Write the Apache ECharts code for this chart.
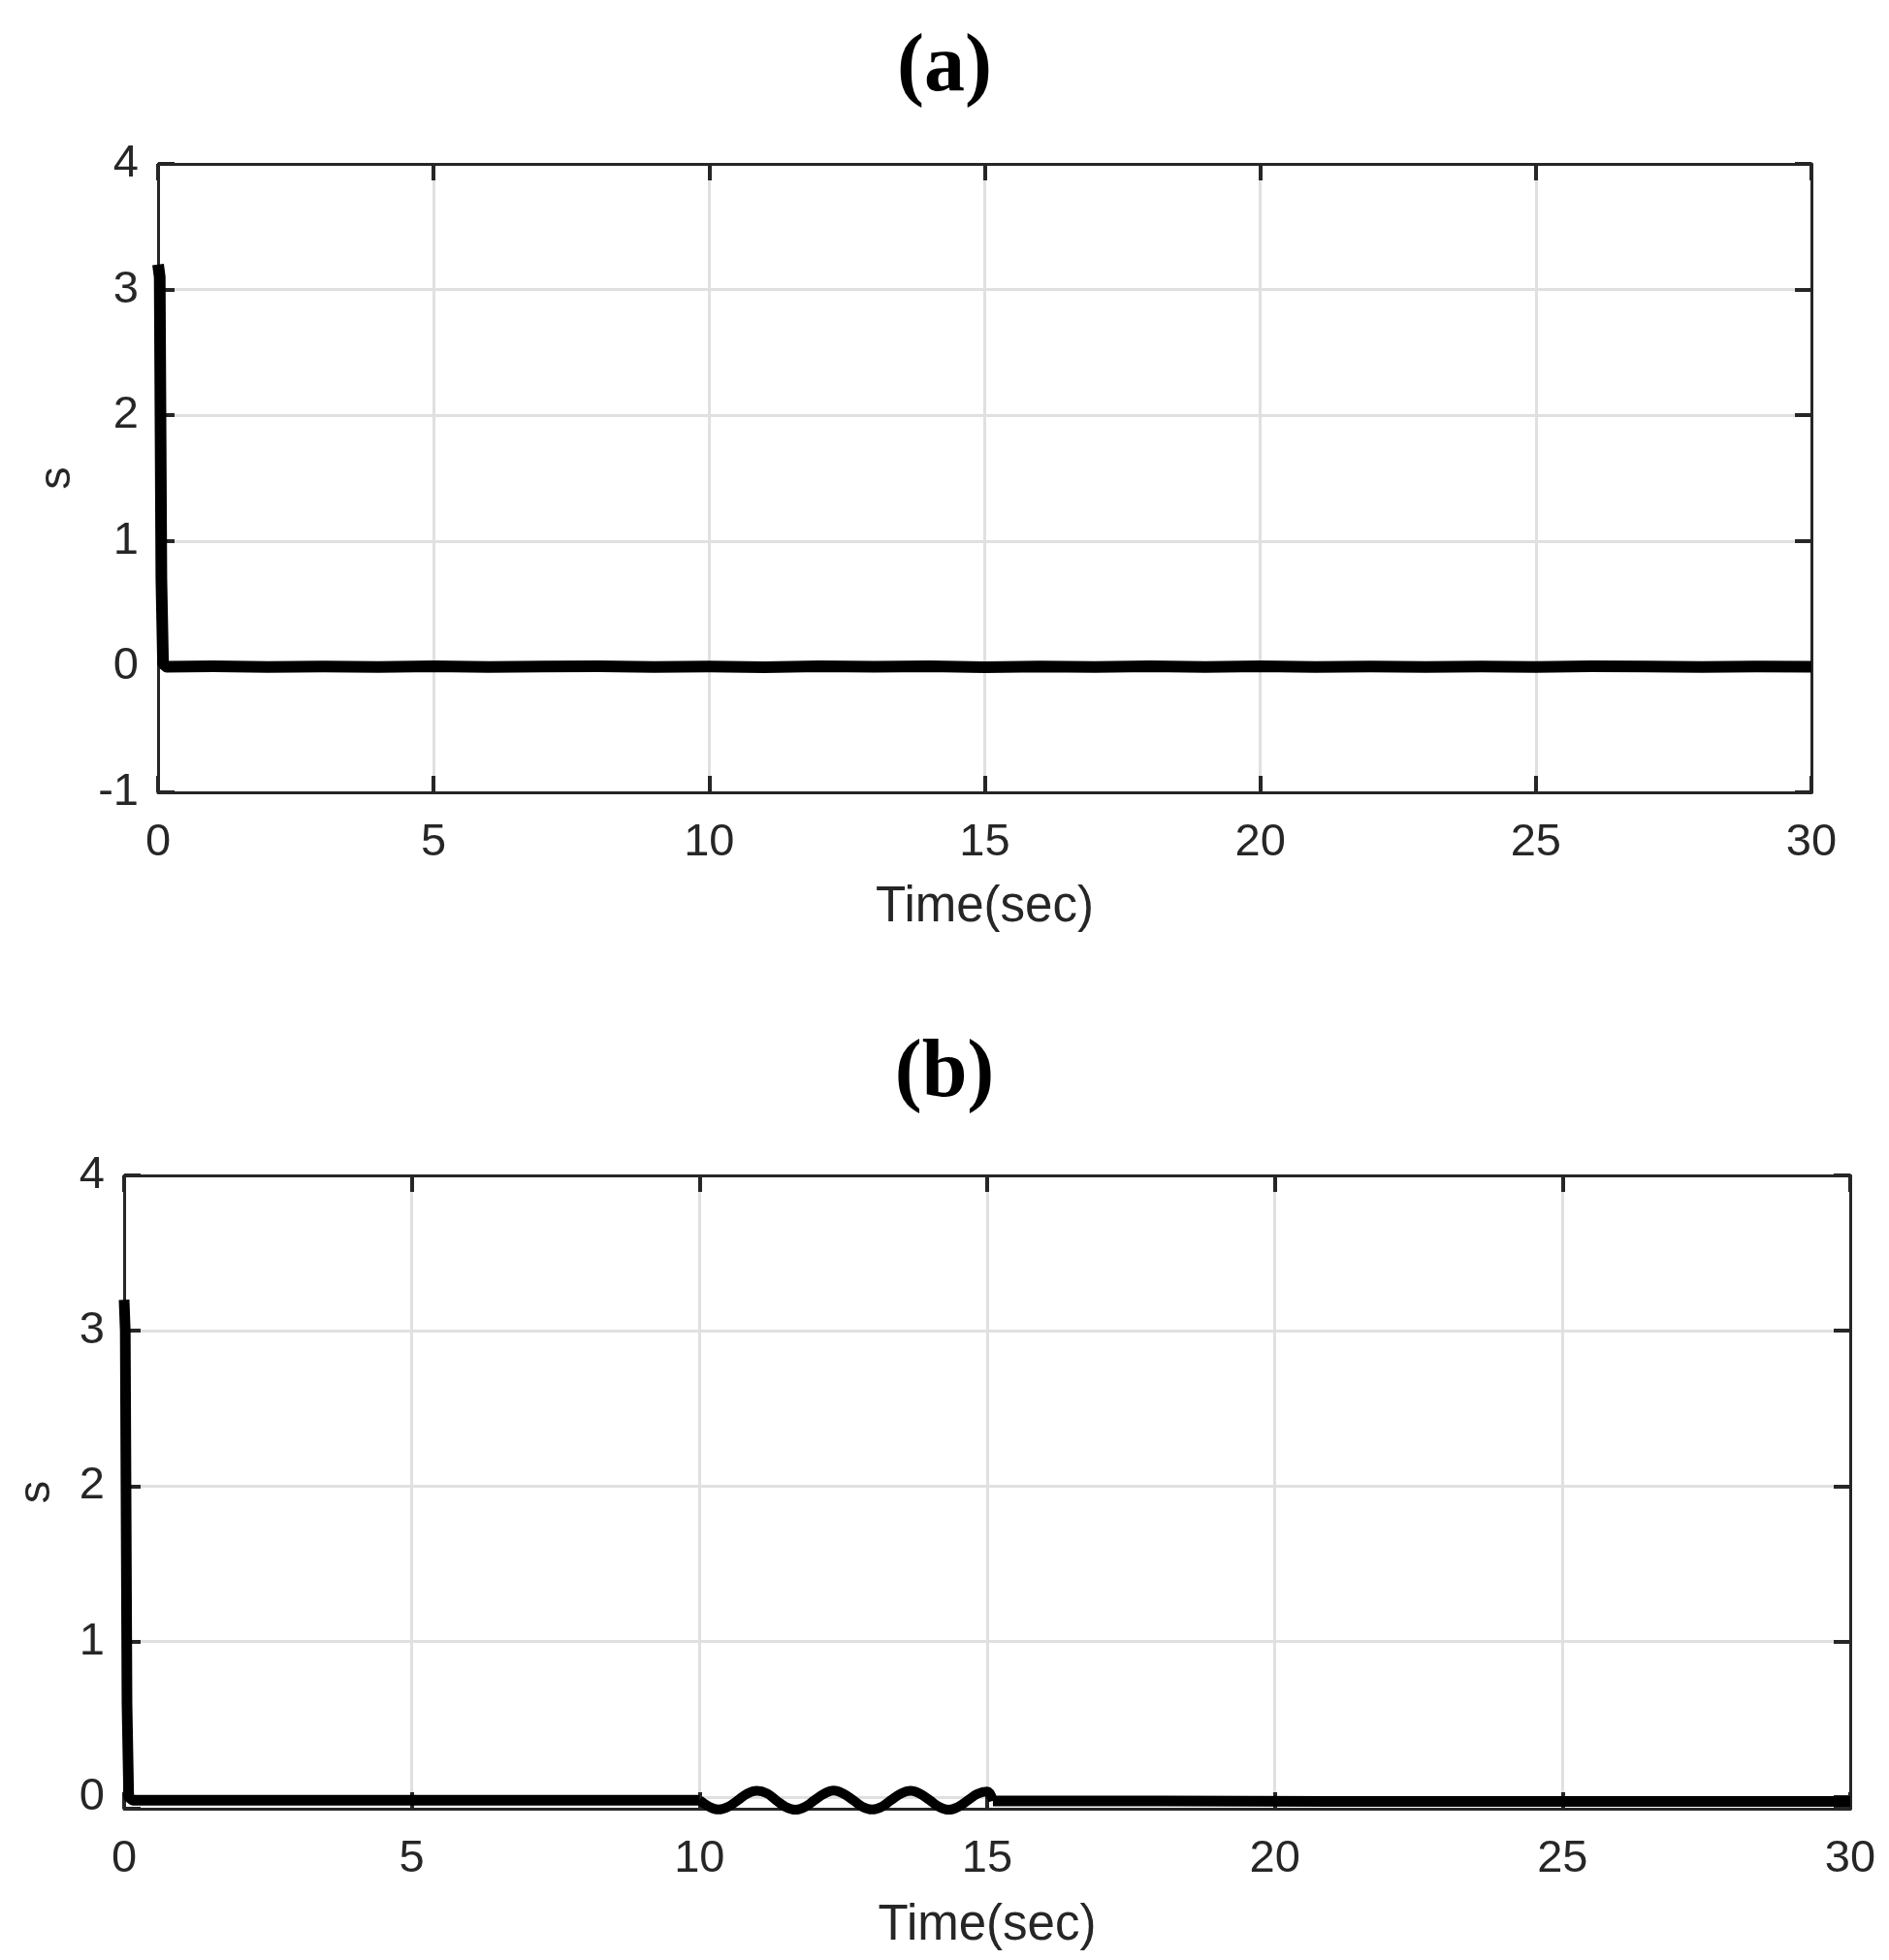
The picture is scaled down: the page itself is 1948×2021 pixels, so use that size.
<!DOCTYPE html>
<html><head><meta charset="utf-8">
<script src="https://cdn.jsdelivr.net/npm/echarts@6/dist/echarts.min.js"></script>
<style>html,body{margin:0;padding:0;background:#fff}#c{width:1948px;height:2021px}</style>
</head><body><div id="c"></div>
<script>
// ---- Panel (a) data ----
const tA = [0, 0.03, 0.06, 0.09, 0.15, 1, 2, 3, 4, 5, 6, 7, 8, 9, 10, 11, 12, 13, 14, 15, 16, 17, 18, 19, 20, 21, 22, 23, 24, 25, 26, 27, 28, 29, 30];
const sA = [3.2, 3.1, 0.7, 0.03, 0.0, 0.003, -0.002, 0.002, -0.003, 0.004, -0.002, 0.002, 0.004, -0.003, 0.001, -0.004, 0.003, -0.001, 0.003, -0.004, 0.002, -0.002, 0.003, -0.002, 0.004, -0.003, 0.001, -0.003, 0.002, -0.002, 0.003, 0.001, -0.002, 0.002, 0.0];

// ---- Panel (b) data ----
const tB = [0, 0.02, 0.05, 0.08, 0.15, 2, 4, 6, 8, 10];
const sB = [3.2, 3.0, 0.6, 0.0, -0.02, -0.02, -0.02, -0.02, -0.02, -0.02];
const tWave = [10, 10.17, 10.33, 10.5, 10.67, 10.83, 11.0, 11.17, 11.33, 11.5, 11.67, 11.83, 12.0, 12.17, 12.33, 12.5, 12.67, 12.83, 13.0, 13.17, 13.33, 13.5, 13.67, 13.83, 14.0, 14.17, 14.33, 14.5, 14.67, 14.83, 15.0, 15.1];
const sWave = [-0.02, -0.062, -0.08, -0.062, -0.02, 0.022, 0.04, 0.024, -0.02, -0.064, -0.082, -0.064, -0.02, 0.022, 0.042, 0.022, -0.02, -0.062, -0.08, -0.062, -0.02, 0.022, 0.04, 0.022, -0.02, -0.064, -0.082, -0.062, -0.02, 0.02, 0.035, -0.025];
const tTail = [15.1, 18, 21, 24, 27, 30];
const sTail = [-0.025, -0.025, -0.028, -0.028, -0.028, -0.028];

// ---- Axis tick settings ----
const xTicks = { min: 0, max: 30, interval: 5 };
const yTicksA = { min: -1, max: 4, interval: 1 };
const yTicksB = { min: -0.075, max: 4 };

const FONT = '"Liberation Sans", Arial, Helvetica, sans-serif';
const SERIF = '"Liberation Serif", "Times New Roman", serif';
const AX = '#262626';
const GRIDC = '#e0e0e0';

const pairs = (t, s) => t.map((v, i) => [v, s[i]]);

function xAxis(g, pos, main, nameGap) {
  return Object.assign({
    type: 'value', gridIndex: g, position: pos,
    axisLine: { show: true, onZero: false, lineStyle: { color: AX, width: 3 } },
    axisTick: { show: true, inside: true, length: 17, lineStyle: { color: AX, width: 4 } },
    axisLabel: { show: main, margin: 29, fontSize: 47, color: AX, fontFamily: FONT },
    splitLine: { show: main, lineStyle: { color: GRIDC, width: 3 } },
    name: main ? 'Time(sec)' : '', nameLocation: 'middle', nameGap: nameGap,
    nameTextStyle: { fontSize: 51, color: AX, fontFamily: FONT }
  }, xTicks);
}
function yAxis(g, pos, main, ticks, nameGap) {
  return Object.assign({
    type: 'value', gridIndex: g, position: pos, splitNumber: 4,
    axisLine: { show: true, onZero: false, lineStyle: { color: AX, width: 3 } },
    axisTick: { show: true, inside: true, length: 17, lineStyle: { color: AX, width: 4 } },
    axisLabel: { show: main, margin: 20, fontSize: 47, color: AX, fontFamily: FONT,
      formatter: v => Number.isInteger(v) ? String(v) : '' },
    splitLine: { show: main, lineStyle: { color: GRIDC, width: 3 } },
    name: main ? 's' : '', nameLocation: 'middle', nameGap: nameGap,
    nameTextStyle: { fontSize: 47, color: AX, fontFamily: FONT }
  }, ticks);
}

const lineS = (xi, yi, data, w, extra) => Object.assign({
  type: 'line', xAxisIndex: xi, yAxisIndex: yi, data: data, showSymbol: false, symbol: 'none',
  lineStyle: { color: '#000', width: w, join: 'round' }, silent: true, z: 5
}, extra || {});

const titleRich = {
  p: { fontFamily: SERIF, fontSize: 84, color: '#000' },
  b: { fontFamily: SERIF, fontSize: 84, fontWeight: 'bold', color: '#000' }
};

const chart = echarts.init(document.getElementById('c'), null, { renderer: 'canvas' });
chart.setOption({
  backgroundColor: '#fff',
  animation: false,
  title: [
    { text: '{p|(}{b|a}{p|)}', left: 'center', top: 24, textStyle: { rich: titleRich } },
    { text: '{p|(}{b|b}{p|)}', left: 'center', top: 1061, textStyle: { rich: titleRich } }
  ],
  grid: [
    { left: 163, top: 169, width: 1705, height: 648, outerBoundsMode: 'none' },
    { left: 128, top: 1212, width: 1780, height: 653, outerBoundsMode: 'none' }
  ],
  xAxis: [
    xAxis(0, 'bottom', true, 93), xAxis(0, 'top', false, 0),
    xAxis(1, 'bottom', true, 95), xAxis(1, 'top', false, 0)
  ],
  yAxis: [
    yAxis(0, 'left', true, yTicksA, 80), yAxis(0, 'right', false, yTicksA, 0),
    yAxis(1, 'left', true, yTicksB, 66), yAxis(1, 'right', false, yTicksB, 0)
  ],
  series: [
    lineS(0, 0, pairs(tA, sA), 12),
    lineS(2, 2, pairs(tB, sB), 11),
    lineS(2, 2, pairs(tWave, sWave), 10, { smooth: 0.4, clip: false }),
    lineS(2, 2, pairs(tTail, sTail), 11)
  ]
});
</script></body></html>
